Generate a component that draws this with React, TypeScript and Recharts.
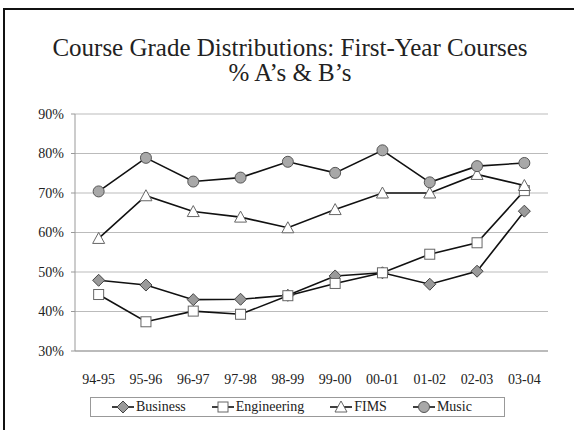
import React from "react";
import { LineChart, Line, XAxis, YAxis, CartesianGrid, Legend } from "recharts";

const years = ["94-95", "95-96", "96-97", "97-98", "98-99", "99-00", "00-01", "01-02", "02-03", "03-04"];
const business = [47.9, 46.7, 43.0, 43.1, 44.1, 49.0, 49.8, 46.9, 50.2, 65.4];
const engineering = [44.3, 37.4, 40.1, 39.3, 44.0, 47.1, 49.8, 54.5, 57.4, 70.6];
const fims = [58.5, 69.3, 65.3, 63.9, 61.2, 65.8, 70.0, 70.0, 74.7, 71.9];
const music = [70.4, 78.9, 72.9, 73.9, 77.9, 75.1, 80.8, 72.7, 76.8, 77.6];
const yTicks = [30, 40, 50, 60, 70, 80, 90];
const bandTicks = [0, 1, 2, 3, 4, 5, 6, 7, 8, 9, 10];

const data = years.map((year, i) => ({
  year,
  business: business[i],
  engineering: engineering[i],
  fims: fims[i],
  music: music[i],
}));

type Shape = "diamond" | "square" | "triangle" | "circle";

const series: { key: string; name: string; shape: Shape }[] = [
  { key: "business", name: "Business", shape: "diamond" },
  { key: "engineering", name: "Engineering", shape: "square" },
  { key: "fims", name: "FIMS", shape: "triangle" },
  { key: "music", name: "Music", shape: "circle" },
];

const FONT = "'Liberation Serif', 'Times New Roman', serif";

const Marker = ({ cx, cy, shape }: { cx: number; cy: number; shape: Shape }) => {
  if (cx == null || cy == null) return null;
  switch (shape) {
    case "diamond":
      return (
        <polygon
          points={`${cx},${cy - 6} ${cx + 6},${cy} ${cx},${cy + 6} ${cx - 6},${cy}`}
          fill="#9a9a9a"
          stroke="#444"
          strokeWidth={1}
        />
      );
    case "square":
      return <rect x={cx - 5} y={cy - 5} width={10} height={10} fill="#fff" stroke="#666" strokeWidth={1} />;
    case "triangle":
      return (
        <polygon
          points={`${cx},${cy - 6} ${cx + 6},${cy + 5} ${cx - 6},${cy + 5}`}
          fill="#fff"
          stroke="#666"
          strokeWidth={1}
        />
      );
    default:
      return <circle cx={cx} cy={cy} r={5.5} fill="#a8a8a8" stroke="#555" strokeWidth={1} />;
  }
};

const LegendBox = () => (
  <div
    style={{
      boxSizing: "border-box",
      width: 415,
      height: 20,
      border: "1px solid #999",
      display: "flex",
      alignItems: "center",
      paddingLeft: 21,
      gap: 26,
      fontFamily: FONT,
      fontSize: 14,
      color: "#222",
    }}
  >
    {series.map((s) => (
      <div key={s.key} style={{ display: "flex", alignItems: "center" }}>
        <svg width={22} height={14} style={{ marginRight: 2 }}>
          <line x1={0} y1={7} x2={22} y2={7} stroke="#111" strokeWidth={1.6} />
          <Marker cx={11} cy={7} shape={s.shape} />
        </svg>
        <span>{s.name}</span>
      </div>
    ))}
  </div>
);

const tickStyle = { fontSize: 14, fill: "#222", fontFamily: FONT };

const titleStyle: React.CSSProperties = {
  position: "absolute",
  left: 3,
  width: 574,
  textAlign: "center",
  fontSize: 25,
  lineHeight: "24px",
  color: "#222",
};

export default function App() {
  return (
    <div
      style={{
        position: "absolute",
        left: 0,
        top: 0,
        width: 574,
        height: 430,
        background: "#fff",
        fontFamily: FONT,
        overflow: "hidden",
      }}
    >
      <div style={{ position: "absolute", left: 3, top: 8, right: 0, height: 2, background: "#111" }} />
      <div style={{ position: "absolute", left: 3, top: 8, bottom: 0, width: 2, background: "#111" }} />
      <div style={{ ...titleStyle, top: 36 }}>Course Grade Distributions: First-Year Courses</div>
      <div style={{ ...titleStyle, top: 61 }}>% A’s &amp; B’s</div>
      <div style={{ position: "absolute", left: 0, top: 0 }}>
        <LineChart width={574} height={430} data={data} margin={{ top: 114, right: 26, bottom: 13, left: 0 }}>
          <CartesianGrid xAxisId="cat" vertical={false} stroke="#bbb" />
          <XAxis
            xAxisId="band"
            type="number"
            domain={[0, 10]}
            ticks={bandTicks}
            tick={false}
            tickSize={5}
            height={5}
            axisLine={{ stroke: "#999" }}
            tickLine={{ stroke: "#999" }}
          />
          <XAxis
            xAxisId="cat"
            dataKey="year"
            scale="band"
            interval={0}
            axisLine={false}
            tickLine={false}
            height={41}
            tickMargin={12}
            tick={tickStyle}
          />
          <YAxis
            width={75}
            domain={[30, 90]}
            ticks={yTicks}
            tickFormatter={(v) => `${v}%`}
            tick={tickStyle}
            tickSize={4}
            tickMargin={7}
            axisLine={{ stroke: "#999" }}
            tickLine={{ stroke: "#999" }}
          />
          <YAxis
            yAxisId="right"
            orientation="right"
            width={0}
            domain={[30, 90]}
            tick={false}
            tickLine={false}
            axisLine={{ stroke: "#aaa" }}
          />
          <Legend
            verticalAlign="bottom"
            wrapperStyle={{ left: 90, width: 415 }}
            content={() => <LegendBox />}
          />
          {series.map((s) => (
            <Line
              key={s.key}
              xAxisId="cat"
              dataKey={s.key}
              name={s.name}
              stroke="#111"
              strokeWidth={1.6}
              isAnimationActive={false}
              dot={(p: any) => <Marker key={`${s.key}-${p.index}`} cx={p.cx} cy={p.cy} shape={s.shape} />}
              activeDot={false}
            />
          ))}
        </LineChart>
      </div>
    </div>
  );
}
